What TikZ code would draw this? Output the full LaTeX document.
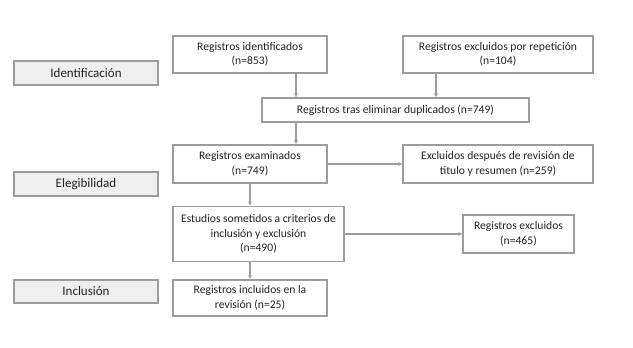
\documentclass[tikz,border=0pt]{standalone}
\usepackage{fontspec}
\setmainfont{Carlito}
\usepackage{xcolor}
\usetikzlibrary{arrows.meta,positioning,calc}

\definecolor{linegray}{HTML}{9C9C9C}
\definecolor{fillgray}{HTML}{EFEFEF}
\definecolor{txtgray}{HTML}{222222}

\begin{document}
\begin{tikzpicture}[x=1pt,y=-1pt,>=Latex,
  box/.style={draw=linegray,line width=1.1pt,fill=white,align=center,text=txtgray,font=\fontsize{11.6}{14.5}\selectfont,inner sep=1pt},
  phase/.style={box,fill=fillgray,minimum width=144pt,minimum height=24pt,font=\fontsize{13}{15}\selectfont},
  arrow/.style={draw=linegray,line width=1.1pt,arrows={-Latex[length=4pt,width=4pt]}}]
\useasboundingbox (0,0) rectangle (633,348);
% fases
\node[phase] (ident-l) at (86,73) {Identificación};
\node[phase] (eleg-l) at (86,184) {Elegibilidad};
\node[phase,minimum height=23pt] (incl-l) at (86,291.5) {Inclusión};
% cajas
\node[box,minimum width=154pt,minimum height=37pt] (ident) at (250,54.5) {Registros identificados\\(n=853)};
\node[box,minimum width=190pt,minimum height=37pt] (rep) at (498,54.5) {Registros excluidos por repetición\\(n=104)};
\node[box,minimum width=267pt,minimum height=24pt] (elim) at (395.5,110) {Registros tras eliminar duplicados (n=749)};
\node[box,minimum width=154pt,minimum height=38pt] (exam) at (250,164) {Registros examinados\\(n=749)};
\node[box,minimum width=190pt,minimum height=38pt] (desp) at (498,164) {Excluidos después de revisión de\\titulo y resumen (n=259)};
\node[box,minimum width=171pt,minimum height=55pt] (estud) at (258.5,234) {Estudios sometidos a criterios de\\inclusión y exclusión\\(n=490)};
\node[box,minimum width=111pt,minimum height=38pt] (excl) at (518.5,234) {Registros excluidos\\(n=465)};
\node[box,minimum width=154pt,minimum height=36pt] (incl) at (250,298) {Registros incluidos en la\\revisión (n=25)};
% conectores
\coordinate (a) at ([xshift=46pt]ident.south);
\coordinate (b) at ([xshift=-62pt]rep.south);
\draw[arrow] (a) -- (a |- elim.north);
\draw[arrow] (b) -- (b |- elim.north);
\draw[arrow] (a |- elim.south) -- (a |- exam.north);
\draw[arrow] (exam) -- (estud.north -| exam.south);
\draw[arrow] (estud.south -| exam.south) -- (incl);
\draw[arrow] (exam) -- (desp);
\draw[arrow] (estud) -- (excl);
\end{tikzpicture}
\end{document}
